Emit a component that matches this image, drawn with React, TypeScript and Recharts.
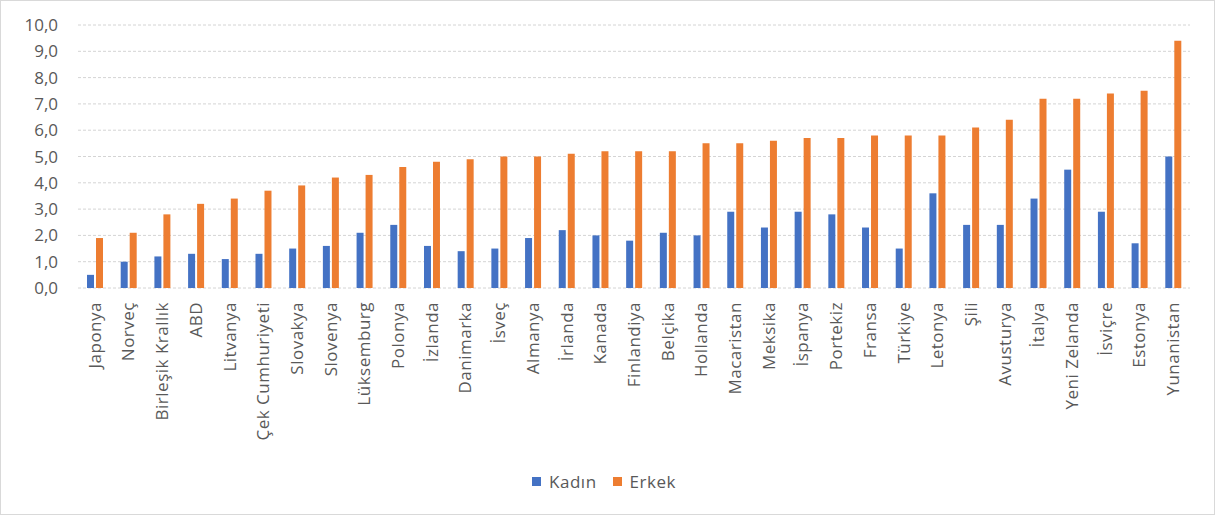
import { Bar, BarChart, CartesianGrid, Legend, XAxis, YAxis } from "recharts";

const countries = [
  "Japonya", "Norveç", "Birleşik Krallık", "ABD", "Litvanya", "Çek Cumhuriyeti",
  "Slovakya", "Slovenya", "Lüksemburg", "Polonya", "İzlanda", "Danimarka",
  "İsveç", "Almanya", "İrlanda", "Kanada", "Finlandiya", "Belçika",
  "Hollanda", "Macaristan", "Meksika", "İspanya", "Portekiz", "Fransa",
  "Türkiye", "Letonya", "Şili", "Avusturya", "İtalya", "Yeni Zelanda",
  "İsviçre", "Estonya", "Yunanistan",
];

const kadin = [
  0.5, 1.0, 1.2, 1.3, 1.1, 1.3, 1.5, 1.6, 2.1, 2.4, 1.6, 1.4,
  1.5, 1.9, 2.2, 2.0, 1.8, 2.1, 2.0, 2.9, 2.3, 2.9, 2.8, 2.3,
  1.5, 3.6, 2.4, 2.4, 3.4, 4.5, 2.9, 1.7, 5.0,
];

const erkek = [
  1.9, 2.1, 2.8, 3.2, 3.4, 3.7, 3.9, 4.2, 4.3, 4.6, 4.8, 4.9,
  5.0, 5.0, 5.1, 5.2, 5.2, 5.2, 5.5, 5.5, 5.6, 5.7, 5.7, 5.8,
  5.8, 5.8, 6.1, 6.4, 7.2, 7.2, 7.4, 7.5, 9.4,
];

const seriesNames = ["Kadın", "Erkek"];
const seriesColors = ["#4472C4", "#ED7D31"];
const yTicks = [0, 1, 2, 3, 4, 5, 6, 7, 8, 9, 10];

const data = countries.map((name, i) => ({ name, Kadın: kadin[i], Erkek: erkek[i] }));

const FONT = "'Open Sans', 'Noto Sans', sans-serif";
const TEXT = "#595959";

function CountryTick({ x, y, payload }: any) {
  return (
    <g transform={`translate(${x},${y})`}>
      <text
        transform="rotate(-90)"
        textAnchor="end"
        dy="0.35em"
        fill={TEXT}
        fontSize={17}
        letterSpacing={0.5}
        fontFamily={FONT}
      >
        {payload.value}
      </text>
    </g>
  );
}

function LegendBox() {
  return (
    <div
      style={{
        height: 40,
        display: "flex",
        justifyContent: "center",
        alignItems: "center",
        fontFamily: FONT,
        fontSize: 17,
        letterSpacing: 0.5,
        color: TEXT,
      }}
    >
      {seriesNames.map((name, i) => (
        <span key={name} style={{ display: "flex", alignItems: "center", margin: "0 8px" }}>
          <span style={{ width: 9, height: 9, background: seriesColors[i], marginRight: 8 }} />
          {name}
        </span>
      ))}
    </div>
  );
}

export default function App() {
  return (
    <div
      style={{
        width: 1215,
        height: 515,
        boxSizing: "border-box",
        border: "1px solid #d9d9d9",
        background: "#fff",
      }}
    >
      <style>{"body{margin:0}"}</style>
      <BarChart
        width={1213}
        height={513}
        data={data}
        margin={{ top: 24, right: 24, left: 17, bottom: 13 }}
        barSize={7}
        barGap={2}
      >
        <CartesianGrid vertical={false} stroke="#d4d4d4" strokeDasharray="3 2" />
        <XAxis
          dataKey="name"
          interval={0}
          height={173}
          axisLine={false}
          tickLine={false}
          tickSize={0}
          tickMargin={14}
          tick={<CountryTick />}
        />
        <YAxis
          domain={[0, 10]}
          ticks={yTicks}
          width={60}
          axisLine={false}
          tickLine={false}
          tickSize={0}
          tickMargin={20}
          tickFormatter={(v: number) => v.toFixed(1).replace(".", ",")}
          tick={{ fill: TEXT, fontSize: 17, fontFamily: FONT }}
        />
        <Legend verticalAlign="bottom" height={40} content={<LegendBox />} />
        {seriesNames.map((name, i) => (
          <Bar key={name} dataKey={name} fill={seriesColors[i]} isAnimationActive={false} />
        ))}
      </BarChart>
    </div>
  );
}
